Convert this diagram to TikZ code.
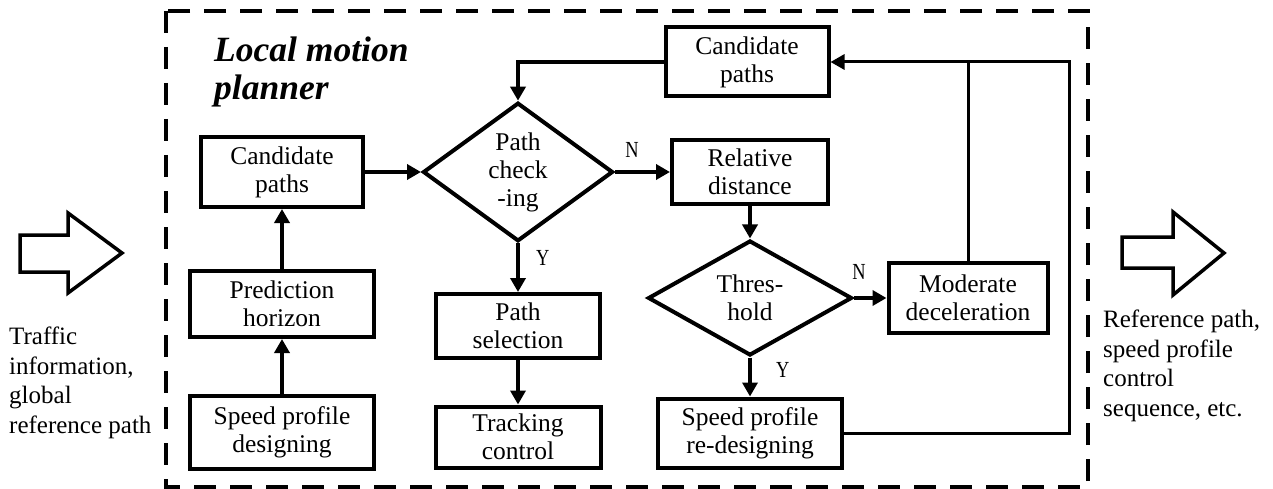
\documentclass[tikz,border=0pt]{standalone}
\usepackage{fontspec}
\setmainfont{Liberation Serif}
\newfontfamily\ynfont[FakeStretch=0.8]{Liberation Serif}
\usetikzlibrary{shapes.geometric,arrows.meta}
\begin{document}
\begin{tikzpicture}[x=1pt,y=-1pt,
    box/.style={draw, line width=4pt, align=center, inner sep=0pt, font=\fontsize{25.5}{28}\selectfont},
    decision/.style={draw, diamond, line width=4pt, align=center, inner sep=0pt, font=\fontsize{25.5}{28}\selectfont},
    flow/.style={line width=4pt, -{Triangle[length=14pt,width=15pt]}},
    yn/.style={font=\ynfont\fontsize{23}{23}\selectfont, inner sep=0pt},
    side/.style={anchor=north west, align=left, inner sep=0pt, font=\fontsize{25}{29.5}\selectfont}]
    \useasboundingbox (0,0) rectangle (1273,489);
    % frame of the planner
    \draw[line width=3.5pt, dash pattern=on 22pt off 14pt] (166,11) rectangle (1088,487);
    \node[anchor=north west, inner sep=0pt, align=left, font=\bfseries\itshape\fontsize{35.5}{38}\selectfont] (title) at (214,37) {Local motion\\planner};
    % input and output
    \draw[line width=3.5pt] (20,235) -- (68,235) -- (68,213) -- (122,253) -- (68,293) -- (68,272) -- (20,272) -- cycle;
    \draw[line width=3.5pt] (1122,237) -- (1173,237) -- (1173,212) -- (1224,253) -- (1173,295) -- (1173,268) -- (1122,268) -- cycle;
    \node[side] (inL) at (9,327) {Traffic\\information,\\global\\reference path};
    \node[side] (outR) at (1103,310) {Reference path,\\speed profile\\control\\sequence, etc.};
    % blocks
    \node[box, minimum width=162pt, minimum height=70pt] (cpA) at (282,172) {Candidate\\paths};
    \node[box, minimum width=184pt, minimum height=66pt] (ph) at (282,304) {Prediction\\horizon};
    \node[box, minimum width=184pt, minimum height=73pt] (spd) at (282,432) {Speed profile\\designing};
    \node[decision, minimum width=190pt, minimum height=114pt] (chk) at (518,172) {Path\\check\\-ing};
    \node[box, minimum width=164pt, minimum height=64pt] (psel) at (518,326) {Path\\selection};
    \node[box, minimum width=165pt, minimum height=61pt] (trk) at (518,437) {Tracking\\control};
    \node[box, minimum width=163pt, minimum height=69pt] (cpB) at (747,62) {Candidate\\paths};
    \node[box, minimum width=156pt, minimum height=63pt] (rel) at (750,172) {Relative\\distance};
    \node[decision, minimum width=204pt, minimum height=115pt] (thr) at (750,298) {Thres-\\hold};
    \node[box, minimum width=159pt, minimum height=70pt] (mod) at (968,298) {Moderate\\deceleration};
    \node[box, minimum width=184pt, minimum height=69pt] (spr) at (750,433) {Speed profile\\re-designing};
    \coordinate (loop) at (1069,62);
    % connectors
    \draw[flow] (spd) -- (ph);
    \draw[flow] (ph) -- (cpA);
    \draw[flow] (cpA) -- (chk);
    \draw[flow] (chk) -- node[yn, pos=0.31, above=12pt] (n1) {N} (rel);
    \draw[flow] (chk) -- node[yn, pos=0.3, right=16pt] (y1) {Y} (psel);
    \draw[flow] (psel) -- (trk);
    \draw[flow] (rel) -- (thr);
    \draw[flow] (thr) -- node[yn, pos=0.15, above=17pt] (n2) {N} (mod);
    \draw[flow] (thr) -- node[yn, pos=0.33, right=24pt] (y2) {Y} (spr);
    \draw[flow] (cpB.west) -| (chk.north);
    \draw[flow, line width=3pt] (spr.east) -| (loop) -- (cpB.east);
    \draw[line width=3pt] (mod.north) -- (mod.north |- loop);
\end{tikzpicture}
\end{document}
